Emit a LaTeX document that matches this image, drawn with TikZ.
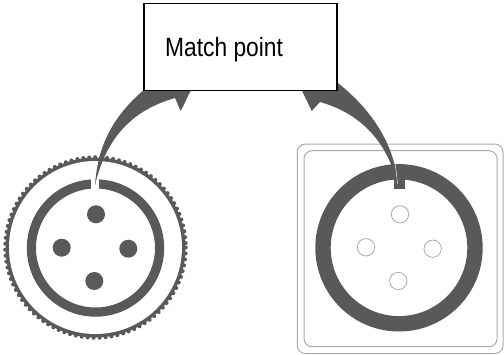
\documentclass[tikz,border=0pt]{standalone}
\usepackage{fontspec}
\usetikzlibrary{calc}
\setmainfont{Liberation Sans}
\definecolor{dark}{HTML}{595959}
\definecolor{pale}{HTML}{ABABAB}
\tikzset{
  boxstyle/.style={draw=black,line width=1.9pt,fill=white,minimum width=193pt,minimum height=87pt,inner sep=0pt},
  labelstyle/.style={inner sep=0pt,font=\fontsize{26.5pt}{28pt}\selectfont,text=black},
  fullpin/.style={fill=dark},
  openpin/.style={draw=pale,line width=0.8pt,fill=white},
  frame/.style={draw=pale,line width=1pt},
  pointer/.style={fill=dark}
}
\begin{document}
\begin{tikzpicture}[x=1pt,y=-1pt]
\useasboundingbox (0,0) rectangle (504,354);
% left connector
\coordinate (L) at (95.5,247.5);
\fill[dark] (L) circle[radius=90];
\foreach \a in {0,3.8,...,359}{
  \fill[dark] ($(L)+(\a:90.3)$) circle[radius=2];
}
\fill[white] (L) circle[radius=86.5];
\fill[dark,even odd rule] (95.5,248) circle[radius=68.7] (95.5,248) circle[radius=59.5];
\fill[white] (90.7,175) rectangle (99.3,190);
\foreach \n/\px/\py in {la/96/214.3,lb/61.7/247.7,lc/128.3/248.7,ld/94.3/281}{
  \fill[fullpin] (\px,\py) circle[radius=9];
  \coordinate (\n) at (\px,\py);
}
% right connector
\draw[frame,rounded corners=8pt] (297.3,144) rectangle (503,353.5);
\draw[frame,rounded corners=8pt] (304,150.7) rectangle (497,346.7);
\coordinate (R) at (399,247.8);
\fill[dark,even odd rule] (R) circle[radius=83.7] (R) circle[radius=68.3];
\fill[dark] (394,175) rectangle (404.7,189);
\foreach \n/\px/\py in {ra/400/214.3,rb/366/247.3,rc/432.7/248.7,rd/398.3/281}{
  \draw[openpin] (\px,\py) circle[radius=8.7];
  \coordinate (\n) at (\px,\py);
}
% pointers
\fill[pointer] (95,185) .. controls (97,160) and (103,125) .. (143,90.7)
  -- (190.7,90.7) -- (180.7,111) -- (175,98)
  .. controls (140,108) and (108,130) .. cycle;
\fill[pointer] (398,185) .. controls (396,160) and (385,120) .. (336.7,82)
  -- (336.7,90.7) -- (302,90.7) -- (311.7,111) -- (320,102)
  .. controls (355,112) and (385,135) .. cycle;
\draw[white,line width=0.4pt] (397.5,184) .. controls (396,165) and (393,150) .. (388,140);
% box
\node[boxstyle] (box) at (240.2,47) {};
\node[labelstyle,anchor=base west] (lbl) at (165,56.7) {\scalebox{0.86}[1]{Match point}};
\end{tikzpicture}
\end{document}
